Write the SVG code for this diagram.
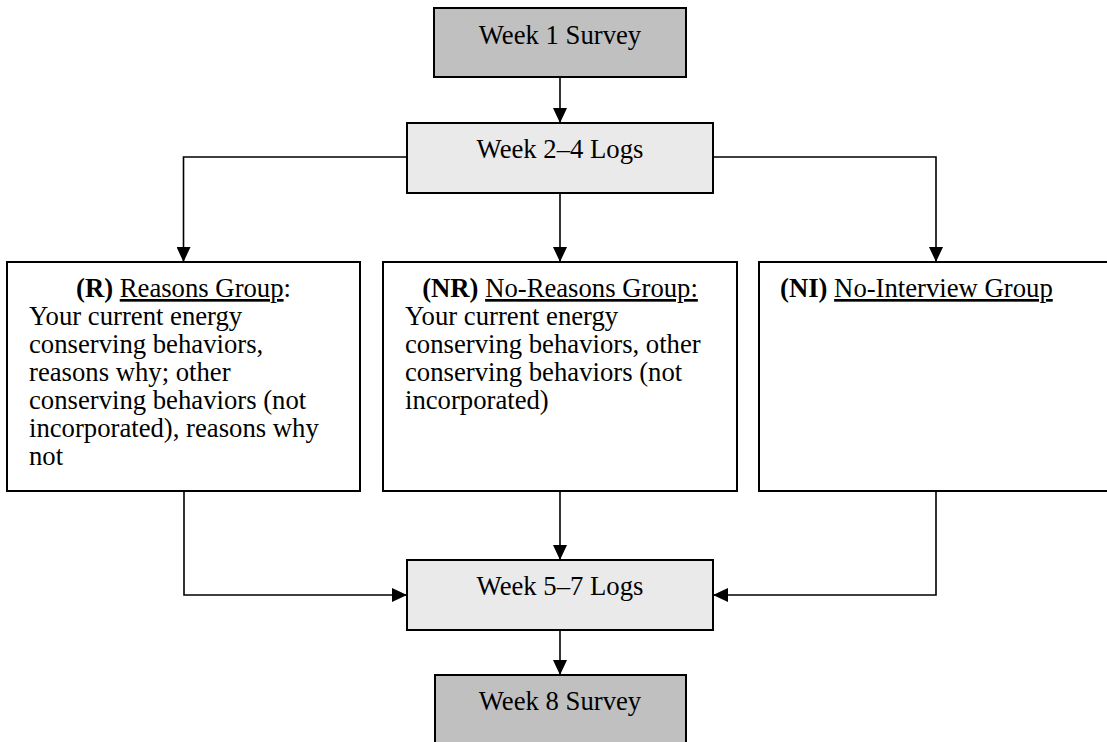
<svg xmlns="http://www.w3.org/2000/svg" width="1107" height="742" viewBox="0 0 1107 742">
<defs>
<marker id="ah" markerWidth="15" markerHeight="14" refX="15" refY="7" orient="auto" markerUnits="userSpaceOnUse">
<path d="M0,0 L15,7 L0,14 Z" fill="#000"/>
</marker>
<style>
.box{stroke:#000;stroke-width:2}
.dark{fill:#c0c0c0}
.light{fill:#eaeaea}
.white{fill:#fff}
text{font-family:"Liberation Serif","Times New Roman",serif;font-size:26.7px;fill:#000}
.c{text-anchor:middle}
.b{font-weight:bold}
.u{text-decoration:underline}
.conn{fill:none;stroke:#000;stroke-width:1.6;marker-end:url(#ah)}
</style>
</defs>
<rect width="1107" height="742" fill="#fff"/>
<g id="connectors">
<path class="conn" d="M560,77 V123"/>
<path class="conn" d="M407,157 H183.5 V262"/>
<path class="conn" d="M560,193 V262"/>
<path class="conn" d="M713,157 H936 V262"/>
<path class="conn" d="M184,491 V595 H407"/>
<path class="conn" d="M560,491 V560"/>
<path class="conn" d="M936,491 V595 H713"/>
<path class="conn" d="M560,630 V675"/>
</g>
<g id="week1">
<rect class="box dark" x="434" y="8" width="252" height="69"/>
<text class="c" x="560" y="44">Week 1 Survey</text>
</g>
<g id="week24">
<rect class="box light" x="407" y="123" width="306" height="70"/>
<text class="c" x="560" y="158">Week 2–4 Logs</text>
</g>
<g id="reasons">
<rect class="box white" x="7" y="262" width="353" height="229"/>
<text class="c" x="183.5" y="297"><tspan class="b">(R)</tspan> <tspan class="u">Reasons Group</tspan>:</text>
<text x="29" y="325">Your current energy</text>
<text x="29" y="353">conserving behaviors,</text>
<text x="29" y="381">reasons why; other</text>
<text x="29" y="409">conserving behaviors (not</text>
<text x="29" y="437">incorporated), reasons why</text>
<text x="29" y="465">not</text>
</g>
<g id="noreasons">
<rect class="box white" x="383" y="262" width="354" height="229"/>
<text class="c" x="560" y="297"><tspan class="b">(NR)</tspan> <tspan class="u">No-Reasons Group:</tspan></text>
<text x="405" y="325">Your current energy</text>
<text x="405" y="353">conserving behaviors, other</text>
<text x="405" y="381">conserving behaviors (not</text>
<text x="405" y="409">incorporated)</text>
</g>
<g id="nointerview">
<rect class="box white" x="759" y="262" width="360" height="229"/>
<text x="780" y="297"><tspan class="b">(NI)</tspan> <tspan class="u">No-Interview Group</tspan></text>
</g>
<g id="week57">
<rect class="box light" x="407" y="560" width="306" height="70"/>
<text class="c" x="560" y="595">Week 5–7 Logs</text>
</g>
<g id="week8">
<rect class="box dark" x="435" y="675" width="251" height="70"/>
<text class="c" x="560" y="710">Week 8 Survey</text>
</g>
</svg>
